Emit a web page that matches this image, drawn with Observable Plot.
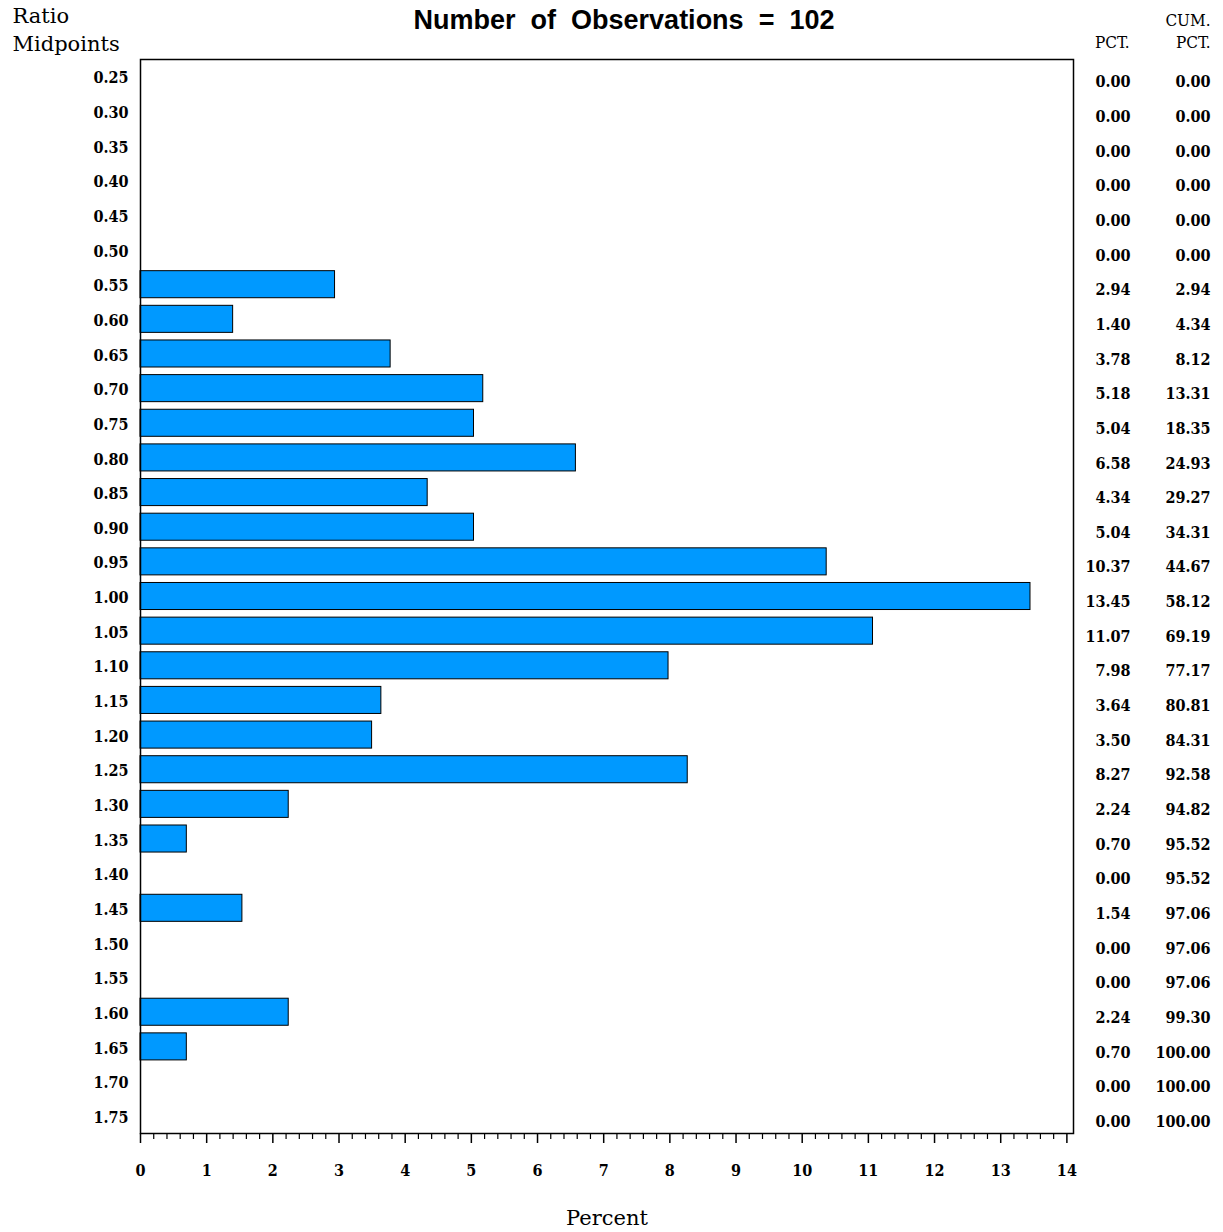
<!DOCTYPE html>
<html>
<head>
<meta charset="utf-8">
<script src="https://cdn.jsdelivr.net/npm/d3@7"></script>
<script src="https://cdn.jsdelivr.net/npm/@observablehq/plot@0.6"></script>
<style>
  html, body { margin: 0; padding: 0; background: #fff; }
  svg { white-space: pre; }
  .cond text { font-stretch: condensed; }
</style>
</head>
<body>
<div id="chart"></div>
<script>
const midpoints = ["0.25","0.30","0.35","0.40","0.45","0.50","0.55","0.60","0.65","0.70","0.75","0.80","0.85","0.90","0.95","1.00","1.05","1.10","1.15","1.20","1.25","1.30","1.35","1.40","1.45","1.50","1.55","1.60","1.65","1.70","1.75"];
const pct = [0,0,0,0,0,0,2.94,1.40,3.78,5.18,5.04,6.58,4.34,5.04,10.37,13.45,11.07,7.98,3.64,3.50,8.27,2.24,0.70,0,1.54,0,0,2.24,0.70,0,0];
const cumPct = [0,0,0,0,0,0,2.94,4.34,8.12,13.31,18.35,24.93,29.27,34.31,44.67,58.12,69.19,77.17,80.81,84.31,92.58,94.82,95.52,95.52,97.06,97.06,97.06,99.30,100,100,100];
const majorTicks = [0,1,2,3,4,5,6,7,8,9,10,11,12,13,14];
const title = "Number  of  Observations  =  102";

const rows = midpoints.map((m, i) => ({mid: m, pct: pct[i], cum: cumPct[i]}));
const minorTicks = d3.range(0, 14.01, 0.2).map(v => +v.toFixed(1)).filter(v => !majorTicks.includes(v));

const serif = "'DejaVu Serif', serif";
const condSerif = "'DejaVu Serif Condensed', 'DejaVu Serif', serif";
const sans = "'Liberation Sans', Arial, sans-serif";

const chart = Plot.plot({
  width: 1223,
  height: 1232,
  marginLeft: 140,
  marginRight: 150,
  marginTop: 59,
  marginBottom: 99,
  style: {fontFamily: serif, background: "#fff"},
  x: {domain: [0, 14.1]},
  y: {domain: midpoints, padding: 0, round: false},
  marks: [
    Plot.barX(rows.filter(d => d.pct > 0), {x: "pct", y: "mid", insetTop: 3.8, insetBottom: 3.8, fill: "#0099ff", stroke: "#000", strokeWidth: 1}),
    Plot.frame({stroke: "#000", strokeWidth: 1.5}),
    Plot.axisY({tickSize: 0, tickPadding: 12, dy: 1.5, fontSize: 16, fontWeight: "bold", fontFamily: condSerif, className: "cond", label: null}),
    Plot.axisX({ticks: minorTicks, tickSize: 6, tickFormat: () => "", label: null, strokeWidth: 1.2}),
    Plot.axisX({ticks: majorTicks, tickSize: 10, tickPadding: 21, fontSize: 16, fontWeight: "bold", fontFamily: condSerif, className: "cond", label: null, strokeWidth: 1.5}),
    Plot.text(rows, {y: "mid", text: d => d.pct.toFixed(2), frameAnchor: "right", dx: 57, dy: 5.5, textAnchor: "end", fontSize: 16, fontWeight: "bold", fontFamily: condSerif, className: "cond"}),
    Plot.text(rows, {y: "mid", text: d => d.cum.toFixed(2), frameAnchor: "right", dx: 137, dy: 5.5, textAnchor: "end", fontSize: 16, fontWeight: "bold", fontFamily: condSerif, className: "cond"}),
    Plot.text([title], {text: d => d, frameAnchor: "top", lineAnchor: "middle", dx: 17, dy: -39, fontSize: 27, fontWeight: "bold", fontFamily: sans}),
    Plot.text(["Ratio"], {text: d => d, frameAnchor: "top-left", lineAnchor: "middle", dx: -128, dy: -43, textAnchor: "start", fontSize: 21}),
    Plot.text(["Midpoints"], {text: d => d, frameAnchor: "top-left", lineAnchor: "middle", dx: -128, dy: -15, textAnchor: "start", fontSize: 21}),
    Plot.text(["PCT."], {text: d => d, frameAnchor: "top-right", lineAnchor: "middle", dx: 56, dy: -17, textAnchor: "end", fontSize: 17, fontFamily: condSerif, className: "cond"}),
    Plot.text(["CUM."], {text: d => d, frameAnchor: "top-right", lineAnchor: "middle", dx: 137, dy: -39, textAnchor: "end", fontSize: 17, fontFamily: condSerif, className: "cond"}),
    Plot.text(["PCT."], {text: d => d, frameAnchor: "top-right", lineAnchor: "middle", dx: 137, dy: -17, textAnchor: "end", fontSize: 17, fontFamily: condSerif, className: "cond"}),
    Plot.text(["Percent"], {text: d => d, frameAnchor: "bottom", lineAnchor: "middle", dy: 85, fontSize: 21})
  ]
});
document.getElementById("chart").appendChild(chart);
</script>
</body>
</html>
